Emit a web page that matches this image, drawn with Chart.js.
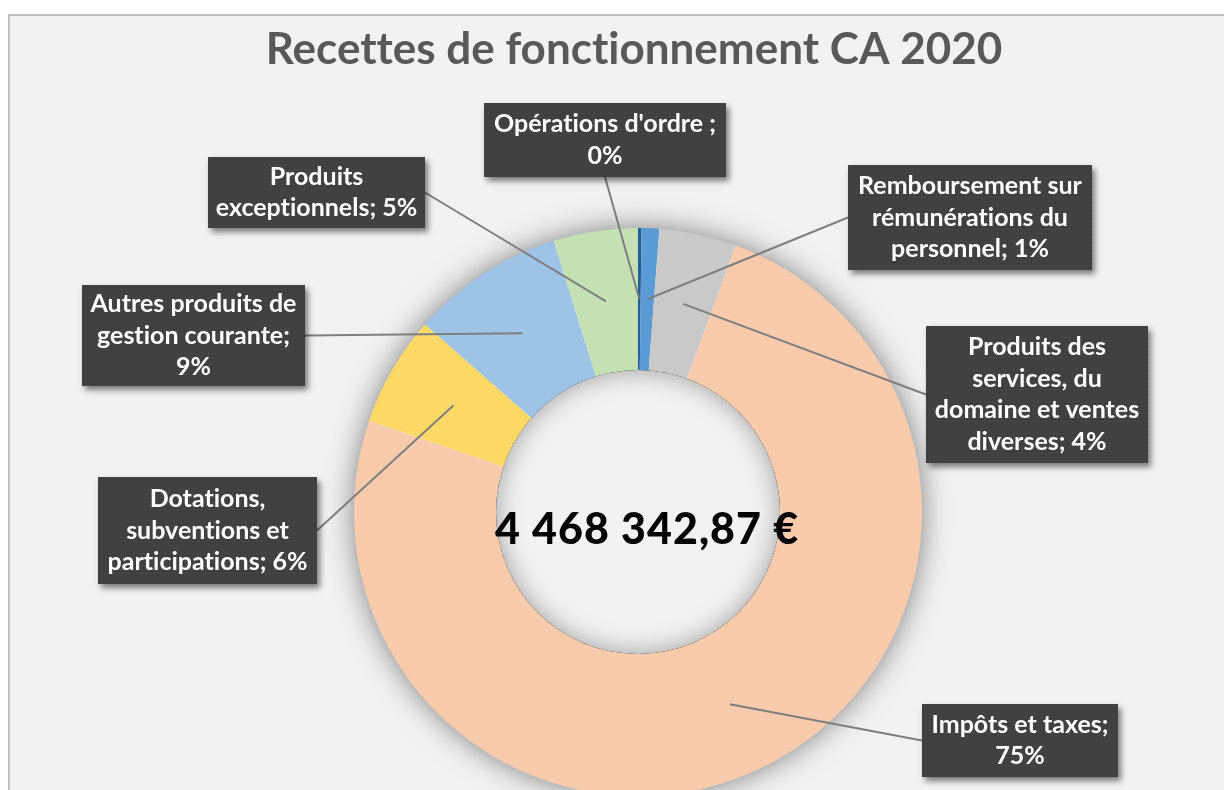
<!DOCTYPE html>
<html>
<head>
  <meta charset="utf-8">
  <title>Recettes de fonctionnement CA 2020</title>
  <style>
    html, body { margin: 0; padding: 0; overflow: hidden; background: #fff; }
    canvas { display: block; }
  </style>
</head>
<body>
  <canvas id="myChart" width="1224" height="800"></canvas>

<script src="https://cdn.jsdelivr.net/npm/chart.js"></script>

<script>
  const chartTitle = 'Recettes de fonctionnement CA 2020'
  const totalText = '4 468 342,87 €'
  const categories = [
    "Opérations d'ordre ",
    'Remboursement sur rémunérations du personnel',
    'Produits des services, du domaine et ventes diverses',
    'Impôts et taxes',
    'Dotations, subventions et participations',
    'Autres produits de gestion courante',
    'Produits exceptionnels'
  ]
  const shares = [0.2, 1.0, 4.4, 74.6, 6.3, 8.7, 4.8] // % of total
  const colors = ['#255E91', '#5B9BD5', '#C9C9C9', '#F8CBAD', '#FFD966', '#9DC3E6', '#C5E0B4']

  // data label boxes were dragged by hand in the sheet: [left, top, width, height]
  const labelBoxes = [
    [484, 103, 242, 74],
    [848, 165, 244, 105],
    [926, 326, 222, 137],
    [922, 704, 196, 73],
    [98, 477, 219, 107],
    [82, 285, 223, 101],
    [208, 157, 217, 71]
  ]

  // little dotted texture of the label boxes
  const dots = document.createElement('canvas')
  dots.width = 4; dots.height = 4
  const dctx = dots.getContext('2d')
  dctx.fillStyle = '#404040'; dctx.fillRect(0, 0, 4, 4)
  dctx.fillStyle = '#4F4F4F'; dctx.fillRect(1, 1, 1, 1)

  function wrap(c, text, maxW) {
    const words = text.split(' ')
    const lines = []
    let cur = ''
    words.forEach(w => {
      const test = cur ? cur + ' ' + w : w
      if (cur && c.measureText(test).width > maxW) { lines.push(cur); cur = w } else cur = test
    })
    if (cur) lines.push(cur)
    return lines
  }

  const decor = {
    id: 'decor',
    beforeDraw(chart) {
      const c = chart.ctx
      c.save()
      c.fillStyle = '#fff'
      c.fillRect(0, 0, chart.width, chart.height)
      c.fillStyle = '#F2F2F2'
      c.fillRect(9, 15, chart.width, chart.height)
      c.strokeStyle = '#BFBFBF'
      c.lineWidth = 2
      c.beginPath()
      c.moveTo(9, chart.height); c.lineTo(9, 15); c.lineTo(chart.width, 15)
      c.stroke()
      c.fillStyle = '#595959'
      c.font = 'bold 44px Lato'
      c.textRendering = 'optimizeSpeed'
      c.textAlign = 'center'
      c.textBaseline = 'middle'
      c.fillText(chartTitle, 634, 50)
      c.restore()
    },
    beforeDatasetsDraw(chart) {
      const c = chart.ctx
      const a = chart.getDatasetMeta(0).data[0]
      c.save()
      c.shadowColor = 'rgba(0,0,0,0.5)'
      c.shadowBlur = 30
      c.fillStyle = '#F2F2F2'
      c.beginPath()
      c.arc(a.x, a.y, a.outerRadius - 1, 0, Math.PI * 2)
      c.fill()
      c.restore()
    },
    afterDatasetsDraw(chart) {
      const c = chart.ctx
      const arcs = chart.getDatasetMeta(0).data
      const a = arcs[0]
      // shadow inside the hole
      c.save()
      c.beginPath()
      c.arc(a.x, a.y, a.innerRadius, 0, Math.PI * 2)
      c.clip()
      c.beginPath()
      c.arc(a.x, a.y, a.innerRadius + 40, 0, Math.PI * 2)
      c.arc(a.x, a.y, a.innerRadius, 0, Math.PI * 2, true)
      c.shadowColor = 'rgba(0,0,0,0.35)'
      c.shadowBlur = 26
      c.fillStyle = '#000'
      c.fill()
      c.restore()

      // total in the middle
      c.save()
      c.fillStyle = '#000'
      c.font = '900 43px Lato'
      c.letterSpacing = '1px'
      c.textAlign = 'center'
      c.textBaseline = 'middle'
      c.fillText(totalText, a.x + 9, a.y + 18)
      c.restore()

      const sum = shares.reduce((s, v) => s + v, 0)
      // leader lines
      c.save()
      c.strokeStyle = '#7F7F7F'
      c.lineWidth = 2
      arcs.forEach((arc, i) => {
        const p = arc.tooltipPosition()
        const [l, t, w, h] = labelBoxes[i]
        let ex, ey
        if (p.x >= l && p.x <= l + w) { ex = l + w / 2; ey = p.y < t ? t : t + h }
        else if (p.x > l + w) { ex = l + w; ey = t + h / 2 }
        else { ex = l; ey = t + h / 2 }
        c.beginPath(); c.moveTo(p.x, p.y); c.lineTo(ex, ey); c.stroke()
      })
      c.restore()

      // label boxes
      const pattern = c.createPattern(dots, 'repeat')
      categories.forEach((name, i) => {
        const [l, t, w, h] = labelBoxes[i]
        c.save()
        c.shadowColor = 'rgba(0,0,0,0.5)'
        c.shadowBlur = 6
        c.shadowOffsetX = 3
        c.shadowOffsetY = 4
        c.fillStyle = '#404040'
        c.fillRect(l, t, w, h)
        c.restore()
        c.save()
        c.fillStyle = pattern
        c.fillRect(l, t, w, h)
        c.fillStyle = '#fff'
        c.font = 'bold 25px Lato'
        c.textRendering = 'optimizeSpeed'
        c.textAlign = 'center'
        c.textBaseline = 'middle'
        const text = name + '; ' + Math.round(shares[i] / sum * 100) + '%'
        const lines = wrap(c, text, w - 8)
        lines.forEach((ln, k) => {
          c.fillText(ln, l + w / 2, t + h / 2 + (k - (lines.length - 1) / 2) * 31.5)
        })
        c.restore()
      })
    }
  }

  const ctx = document.getElementById('myChart')
  new Chart(ctx, {
    type: 'doughnut',
    data: {
      labels: categories,
      datasets: [{
        data: shares,
        backgroundColor: colors,
        borderWidth: 0,
        hoverBorderWidth: 0,
        hoverOffset: 0
      }]
    },
    options: {
      responsive: false,
      animation: false,
      cutout: '50%',
      layout: { padding: { left: 52, right: 0, top: 228, bottom: 4 } },
      plugins: {
        legend: { display: false },
        tooltip: { enabled: false },
        title: { display: false }
      }
    },
    plugins: [decor]
  })
</script>

</body>
</html>
